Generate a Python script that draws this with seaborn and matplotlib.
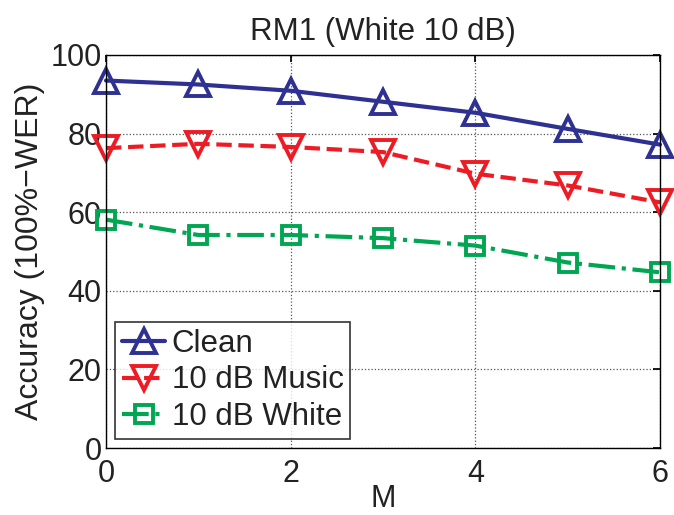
import numpy as np
import pandas as pd
import matplotlib
matplotlib.use("Agg")
import matplotlib.pyplot as plt
import seaborn as sns

M = [0, 1, 2, 3, 4, 5, 6]
clean = [93.5, 92.5, 90.9, 88.1, 85.3, 81.2, 77.2]
music = [76.3, 77.4, 76.6, 75.3, 69.8, 66.8, 62.5]
white = [58.1, 54.2, 54.2, 53.4, 51.5, 47.2, 44.7]
labels = ["Clean", "10 dB Music", "10 dB White"]
colors = ["#2E3192", "#ED1C24", "#00A651"]
markers = ["^", "v", "s"]
styles = ["-", "--", "-."]

sns.set_theme(style="white")
plt.rcParams['font.family'] = ['Liberation Sans', 'DejaVu Sans']

fig = plt.figure(figsize=(6.74, 5.15), dpi=100)
ax = fig.add_axes([106/674, 1-448/515, (660-106)/674, (448-55)/515])

for vals, lab, c, mk, ls in zip([clean, music, white], labels, colors, markers, styles):
    df = pd.DataFrame({"M": M, "acc": vals})
    ms = 13 if mk == "s" else 17
    sns.lineplot(data=df, x="M", y="acc", ax=ax, color=c, marker=mk, linestyle=ls,
                 linewidth=3, markersize=ms, markerfacecolor="none",
                 markeredgecolor=c, markeredgewidth=2.8, label=lab, clip_on=False)

ax.set_xlim(0, 6)
ax.set_ylim(0, 100)
ax.set_xticks([0, 2, 4, 6])
ax.set_yticks([0, 20, 40, 60, 80, 100])
ax.grid(True, linestyle=":", color="#555555", linewidth=0.9)
ax.tick_params(direction="in", top=True, right=True, labelsize=22, length=5,
               color="black", labelcolor="#222222")
ax.tick_params(axis="x", pad=8)
ax.tick_params(axis="y", pad=3)
for s in ax.spines.values():
    s.set_color("black")
    s.set_linewidth(1)
ax.set_xlabel("M", fontsize=22, labelpad=-4, color="#222222")
ax.set_ylabel("Accuracy (100%\u2212WER)", fontsize=23, labelpad=4, color="#222222")
ax.set_title("RM1 (White 10 dB)", fontsize=22.5, pad=11, color="#222222")
leg = ax.legend(loc="lower left", fontsize=22.5, frameon=True, fancybox=False,
                edgecolor="black", handlelength=1.4, handletextpad=0.2,
                borderpad=0.2, labelspacing=0.22, borderaxespad=0.3)
leg.get_frame().set_linewidth(1.2)
for t in leg.get_texts():
    t.set_color("#222222")
fig.savefig("out.png", dpi=100)
